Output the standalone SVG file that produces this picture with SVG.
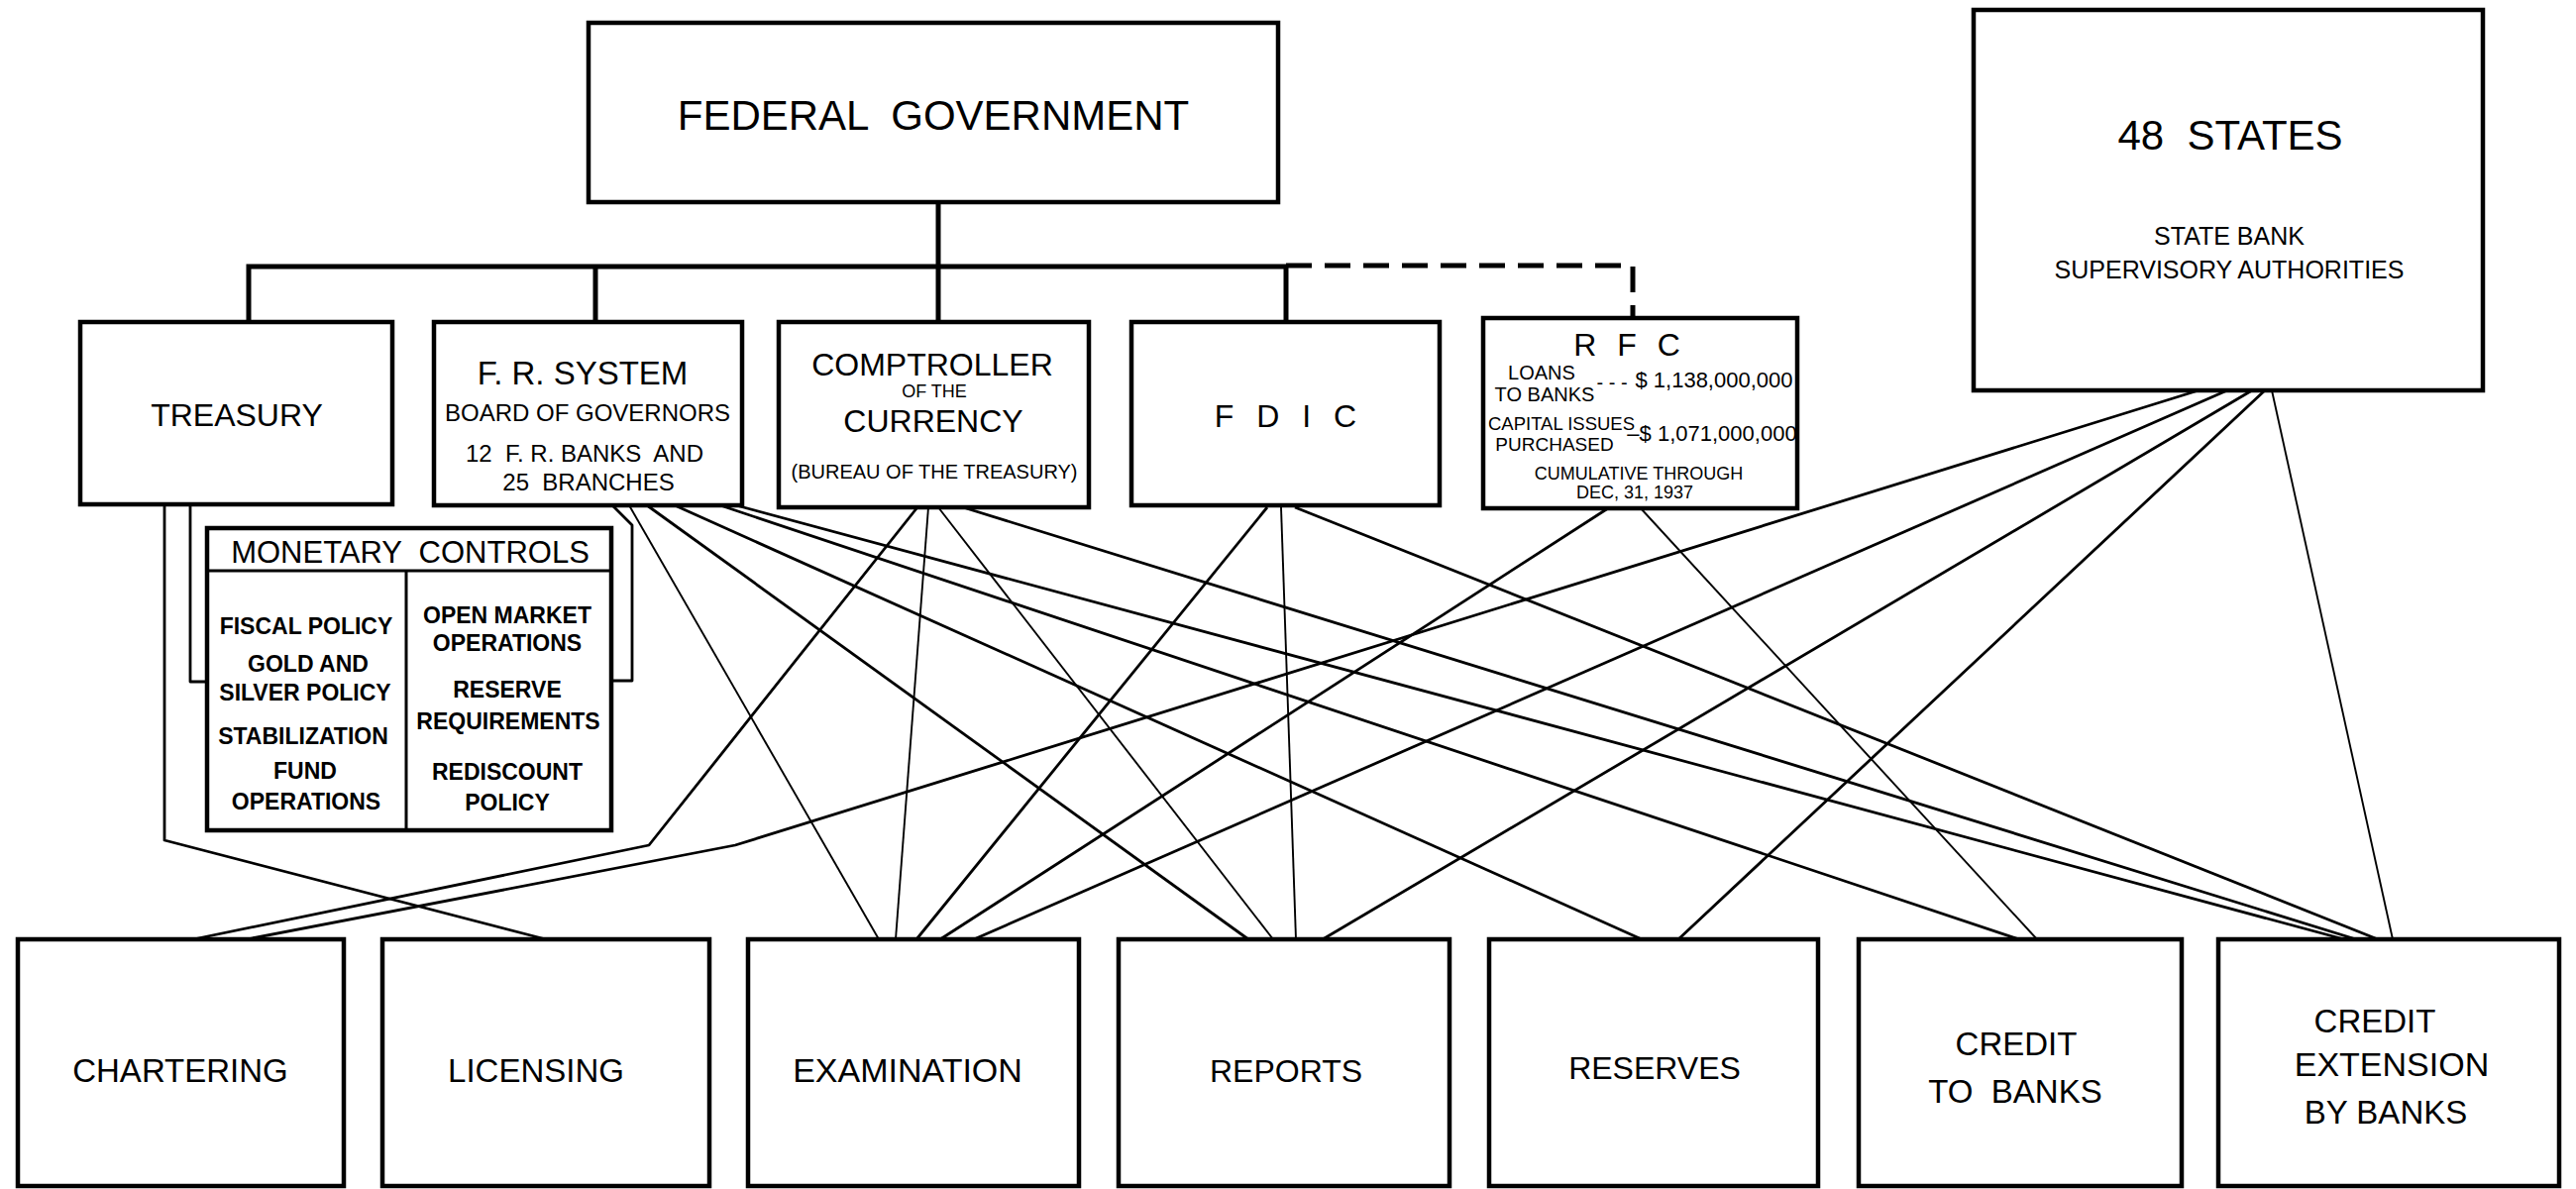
<svg xmlns="http://www.w3.org/2000/svg" width="2600" height="1200" viewBox="0 0 2600 1200">
<style>
.box{fill:#fff;stroke:#000;stroke-width:4.5}
.t{font-family:"Liberation Sans",Arial,sans-serif;fill:#000;text-anchor:middle}
.b{font-weight:bold}
.bus{fill:none;stroke:#000;stroke-width:5}
.c{fill:none;stroke:#000;stroke-width:2.8;stroke-linejoin:round}
.th{fill:none;stroke:#000;stroke-width:1.9}
</style>
<rect width="2600" height="1200" fill="#fff"/>

<g id="connectors">
  <!-- hierarchy -->
  <path class="bus" d="M947,204 V325"/>
  <path class="bus" d="M251,325 V269 H1298 V325"/>
  <path class="bus" d="M601,269 V325"/>
  <path class="bus" d="M1298,268 H1648 V321" stroke-dasharray="26,13"/>
  <!-- brackets to monetary controls -->
  <path class="c" stroke-width="4" d="M192,509 V688 H209"/>
  <path class="c" stroke-width="4" d="M618,510 L638,530 V687 H617"/>
  <!-- Treasury -->
  <path class="c" d="M166,509 V848 L551,948"/>
  <!-- F.R. System -->
  <path class="th" d="M635,510 L887,948"/>
  <path class="c" stroke-width="2.5" d="M653,510 L1260,948"/>
  <path class="c" d="M681,510 L1657,948"/>
  <path class="c" d="M727,510 L2038,948"/>
  <path class="c" d="M743,510 L2366,948"/>
  <!-- Comptroller -->
  <path class="c" stroke-width="2.4" d="M926,512 L655,853 L195,948"/>
  <path class="th" d="M937,512 L904,948"/>
  <path class="th" d="M947,512 L1285,948"/>
  <path class="c" d="M972,512 L2378,948"/>
  <!-- FDIC -->
  <path class="c" stroke-width="2.4" d="M1279,512 L925,948"/>
  <path class="th" d="M1293,512 L1308,948"/>
  <path class="c" d="M1307,512 L2400,948"/>
  <!-- RFC -->
  <path class="c" stroke-width="2.4" d="M1623,513 L949,948"/>
  <path class="th" d="M1656,513 L2056,948"/>
  <!-- 48 States -->
  <path class="c" stroke-width="3.2" d="M2219,394 L742,853 L249,948"/>
  <path class="c" stroke-width="2.5" d="M2248,394 L983,948"/>
  <path class="c" stroke-width="2.5" d="M2273,394 L1335,948"/>
  <path class="c" stroke-width="2.5" d="M2286,394 L1694,948"/>
  <path class="th" d="M2293,394 L2415,948"/>
</g>

<g id="federal-government">
  <rect class="box" x="594" y="23" width="696" height="181"/>
  <text class="t" x="942" y="131" font-size="42" xml:space="preserve">FEDERAL  GOVERNMENT</text>
</g>

<g id="states">
  <rect class="box" x="1992" y="10" width="514" height="384"/>
  <text class="t" x="2251" y="151" font-size="42" xml:space="preserve">48  STATES</text>
  <text class="t" x="2250" y="247" font-size="25">STATE BANK</text>
  <text class="t" x="2250" y="281" font-size="25">SUPERVISORY AUTHORITIES</text>
</g>

<g id="treasury">
  <rect class="box" x="81" y="325" width="315" height="184"/>
  <text class="t" x="239" y="430" font-size="32">TREASURY</text>
</g>

<g id="fr-system">
  <rect class="box" x="438" y="325" width="311" height="185"/>
  <text class="t" x="588" y="388" font-size="33">F. R. SYSTEM</text>
  <text class="t" x="593" y="425" font-size="24">BOARD OF GOVERNORS</text>
  <text class="t" x="590" y="466" font-size="24" xml:space="preserve">12  F. R. BANKS  AND</text>
  <text class="t" x="594" y="495" font-size="24" xml:space="preserve">25  BRANCHES</text>
</g>

<g id="comptroller">
  <rect class="box" x="786" y="325" width="313" height="187"/>
  <text class="t" x="941" y="379" font-size="32">COMPTROLLER</text>
  <text class="t" x="943" y="401" font-size="18">OF THE</text>
  <text class="t" x="942" y="436" font-size="32">CURRENCY</text>
  <text class="t" x="943" y="483" font-size="20">(BUREAU OF THE TREASURY)</text>
</g>

<g id="fdic">
  <rect class="box" x="1142" y="325" width="311" height="185"/>
  <text class="t" x="1301" y="431" font-size="32" letter-spacing="7">F D I C</text>
</g>

<g id="rfc">
  <rect class="box" x="1497" y="321" width="317" height="192"/>
  <text class="t" x="1645" y="359" font-size="32" letter-spacing="6">R F C</text>
  <text class="t" x="1556" y="383" font-size="20">LOANS</text>
  <text class="t" x="1559" y="405" font-size="20">TO BANKS</text>
  <text class="t" x="1627" y="393" font-size="20">- - -</text>
  <text class="t" x="1730" y="391" font-size="22">$ 1,138,000,000</text>
  <text class="t" x="1576" y="434" font-size="18.5">CAPITAL ISSUES</text>
  <text class="t" x="1569" y="455" font-size="19">PURCHASED</text>
  <text class="t" x="1728" y="445" font-size="22">–$ 1,071,000,000</text>
  <text class="t" x="1654" y="484" font-size="18">CUMULATIVE THROUGH</text>
  <text class="t" x="1650" y="503" font-size="18">DEC, 31, 1937</text>
</g>

<g id="monetary-controls">
  <rect class="box" x="209" y="533" width="408" height="305" stroke-width="3.5"/>
  <line x1="209" y1="576" x2="617" y2="576" stroke="#000" stroke-width="3"/>
  <line x1="410" y1="576" x2="410" y2="838" stroke="#000" stroke-width="3"/>
  <text class="t" x="414" y="568" font-size="31" xml:space="preserve">MONETARY  CONTROLS</text>
  <text class="t b" x="309" y="640" font-size="23">FISCAL POLICY</text>
  <text class="t b" x="311" y="678" font-size="23">GOLD AND</text>
  <text class="t b" x="308" y="707" font-size="23">SILVER POLICY</text>
  <text class="t b" x="306" y="751" font-size="23">STABILIZATION</text>
  <text class="t b" x="308" y="786" font-size="23">FUND</text>
  <text class="t b" x="309" y="817" font-size="23">OPERATIONS</text>
  <text class="t b" x="512" y="629" font-size="23">OPEN MARKET</text>
  <text class="t b" x="512" y="657" font-size="23">OPERATIONS</text>
  <text class="t b" x="512" y="704" font-size="23">RESERVE</text>
  <text class="t b" x="513" y="736" font-size="23">REQUIREMENTS</text>
  <text class="t b" x="512" y="787" font-size="23">REDISCOUNT</text>
  <text class="t b" x="512" y="818" font-size="23">POLICY</text>
</g>

<g id="chartering">
  <rect class="box" x="18" y="948" width="329" height="249"/>
  <text class="t" x="182" y="1092" font-size="33">CHARTERING</text>
</g>
<g id="licensing">
  <rect class="box" x="386" y="948" width="330" height="249"/>
  <text class="t" x="541" y="1092" font-size="33">LICENSING</text>
</g>
<g id="examination">
  <rect class="box" x="755" y="948" width="334" height="249"/>
  <text class="t" x="916" y="1092" font-size="34">EXAMINATION</text>
</g>
<g id="reports">
  <rect class="box" x="1129" y="948" width="334" height="249"/>
  <text class="t" x="1298" y="1092" font-size="32">REPORTS</text>
</g>
<g id="reserves">
  <rect class="box" x="1503" y="948" width="332" height="249"/>
  <text class="t" x="1670" y="1089" font-size="32">RESERVES</text>
</g>
<g id="credit-to-banks">
  <rect class="box" x="1876" y="948" width="326" height="249"/>
  <text class="t" x="2035" y="1065" font-size="33">CREDIT</text>
  <text class="t" x="2034" y="1113" font-size="33" xml:space="preserve">TO  BANKS</text>
</g>
<g id="credit-extension">
  <rect class="box" x="2239" y="948" width="344" height="249"/>
  <text class="t" x="2397" y="1042" font-size="33">CREDIT</text>
  <text class="t" x="2414" y="1086" font-size="34">EXTENSION</text>
  <text class="t" x="2408" y="1134" font-size="33">BY BANKS</text>
</g>
</svg>
